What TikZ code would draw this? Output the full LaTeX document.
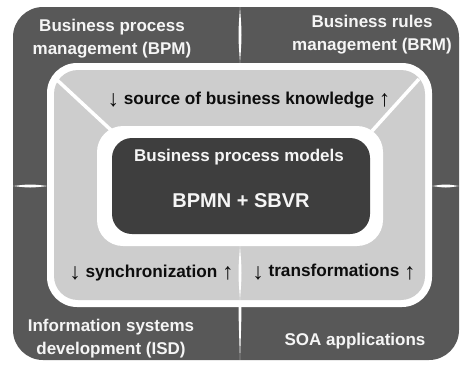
\documentclass[tikz,border=0pt]{standalone}
\usepackage{fontspec}
\setmainfont{Liberation Sans}
\definecolor{outerdark}{RGB}{88,88,88}
\definecolor{innerdark}{RGB}{62,62,62}
\definecolor{lightg}{RGB}{205,205,205}
\definecolor{offwhite}{RGB}{245,245,245}
\newcommand{\dnarr}{\raisebox{-2.5pt}{\fontsize{23}{23}\fontseries{m}\selectfont ↓}}
\newcommand{\uparr}{\raisebox{-2.5pt}{\fontsize{23}{23}\fontseries{m}\selectfont ↑}}
\tikzset{
  wtext/.style={text=offwhite, font=\fontsize{17}{23}\selectfont\bfseries, align=center, inner sep=0pt},
  btext/.style={text=black!95, font=\fontsize{17.2}{23}\selectfont\bfseries, align=center, inner sep=0pt},
  sepline/.style={fill=white},
  diag/.style={draw=white, line width=3.5pt},
}
\begin{document}
\begin{tikzpicture}[x=1pt,y=-1pt]
\useasboundingbox (0,0) rectangle (460,365);
% outer dark frame
\fill[outerdark, rounded corners=30pt] (13,7) rectangle (459,360);
% separators (thin lens shapes)
\fill[sepline] (240,7) .. controls (242,35) .. (240,63) .. controls (238,35) .. (240,7);
\fill[sepline] (240,246) .. controls (242,303) .. (240,360) .. controls (238,303) .. (240,246);
\fill[sepline] (13,186) .. controls (30,188) .. (48,186) .. controls (30,184) .. (13,186);
\fill[sepline] (432,186) .. controls (446,188) .. (459,186) .. controls (446,184) .. (432,186);
% middle ring
\fill[white, rounded corners=30pt] (47,63) rectangle (432,307);
\fill[lightg, rounded corners=24pt] (54,70) rectangle (425,300);
% diagonals and bottom divider
\draw[diag] (56,79) -- (112,131);
\draw[diag] (419,79) -- (372,131);
\fill[sepline] (240,246) .. controls (242,273) .. (240,300) .. controls (238,273) .. (240,246);
% inner box
\fill[white, rounded corners=26pt] (97,126) rectangle (383,246);
\fill[innerdark, rounded corners=20pt] (112,138) rectangle (370,234);
% texts
\node[wtext] (bpm) at (112,38.5) {Business process\\management (BPM)};
\node[wtext] (brm) at (372,35) {Business rules\\management (BRM)};
\node[wtext] (isd) at (111,339) {Information systems\\development (ISD)};
\node[wtext] (soa) at (355,341) {SOA applications};
\node[btext] (src) at (249,100) {\dnarr{} source of business knowledge \uparr};
\node[btext] (sync) at (151.5,273) {\dnarr{} synchronization \uparr};
\node[btext] (trans) at (334,272) {\dnarr{} transformations \uparr};
\node[wtext] (bpmod) at (239,157) {Business process models};
\node[wtext, font=\fontsize{20}{24}\selectfont\bfseries] (bpmn) at (241,201) {BPMN + SBVR};
\end{tikzpicture}
\end{document}
